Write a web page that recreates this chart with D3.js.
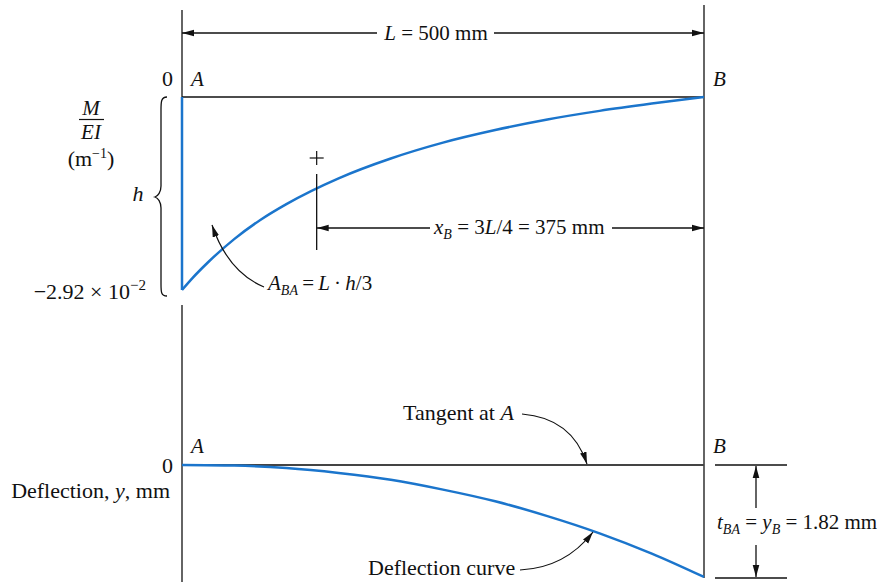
<!DOCTYPE html>
<html>
<head>
<meta charset="utf-8">
<script src="https://cdn.jsdelivr.net/npm/d3@7"></script>
<style>
  html, body { margin: 0; padding: 0; background: #fff; }
  svg { display: block; }
  text { font-family: "Liberation Serif", "Times New Roman", serif; fill: #111; }
</style>
</head>
<body>
<svg id="chart" width="882" height="584"></svg>
<script>
// ---- Data ----
const beamLength = 500; // mm
// M/EI diagram (m^-1) vs position x (mm)
const xMoment = [0, 10, 25, 50, 75, 100, 150, 200, 250, 300, 350, 400, 450, 500];
const mOverEI = [-0.0292, -0.0274, -0.0250, -0.0215, -0.0186, -0.0162, -0.0123, -0.0093, -0.0069, -0.0050, -0.0034, -0.0021, -0.0010, 0];
// Deflection curve y (mm) vs position x (mm)
const xDeflection = [0, 50, 100, 150, 200, 250, 300, 350, 400, 450, 500];
const deflection = [0, -0.01, -0.05, -0.13, -0.24, -0.40, -0.59, -0.83, -1.11, -1.44, -1.82];
const hValue = -0.0292;
const tBA = -1.82;
const centroidX = 129; // position of centroid marker (mm), as drawn
const topTickValues = [0, hValue];
const bottomTickValues = [0];

// ---- Scales ----
const svg = d3.select("#chart");
const x = d3.scaleLinear().domain([0, beamLength]).range([182, 704]);
const yM = d3.scaleLinear().domain([0, hValue]).range([97, 290]);
const yD = d3.scaleLinear().domain([0, tBA]).range([465, 577]);

const BLUE = "#1b75cc";
const FS = 21;
const FS2 = 22;

// markers
const defs = svg.append("defs");
defs.append("marker").attr("id", "arr")
  .attr("viewBox", "0 -5 12 10").attr("refX", 12).attr("refY", 0)
  .attr("markerWidth", 12).attr("markerHeight", 10)
  .attr("markerUnits", "userSpaceOnUse").attr("orient", "auto-start-reverse")
  .append("path").attr("d", "M0,-3.3L12,0L0,3.3Z").attr("fill", "#111");

function line(x1, y1, x2, y2, opts = {}) {
  const l = svg.append("line").attr("x1", x1).attr("y1", y1).attr("x2", x2).attr("y2", y2)
    .attr("stroke", opts.stroke || "#111").attr("stroke-width", opts.w || 1.3);
  if (opts.start) l.attr("marker-start", "url(#arr)");
  if (opts.end) l.attr("marker-end", "url(#arr)");
  return l;
}

// ---- Frame lines ----
line(x(0), 10, x(0), yM(0));
line(x(0), 305, x(0), 582);
line(x(beamLength), 5, x(beamLength), 578);
// top baseline
line(x(0), yM(0), x(beamLength), yM(0));
// bottom tangent line
line(x(0), yD(0), x(beamLength), yD(0), { stroke: "#444", w: 2 });

// ---- M/EI curve ----
line(x(0), yM(0), x(0), yM(hValue), { stroke: BLUE, w: 2.5 });
const pts = xMoment.map((d, i) => [x(d), yM(mOverEI[i])]);
svg.append("path").attr("d", d3.line().curve(d3.curveMonotoneX)(pts))
  .attr("fill", "none").attr("stroke", BLUE).attr("stroke-width", 2.5);

// ---- Deflection curve ----
const dpts = xDeflection.map((d, i) => [x(d), yD(deflection[i])]);
svg.append("path").attr("d", d3.line().curve(d3.curveMonotoneX)(dpts))
  .attr("fill", "none").attr("stroke", BLUE).attr("stroke-width", 2.5);

// ---- Dimension L = 500 mm ----
const dimY = 33;
line(x(0), dimY, 377, dimY, { start: true });
line(494, dimY, x(beamLength), dimY, { end: true });
const tL = svg.append("text").attr("x", 436).attr("y", 40).attr("text-anchor", "middle").attr("font-size", FS);
tL.append("tspan").attr("font-style", "italic").text("L");
tL.append("tspan").text(" = 500 mm");

// ---- Point labels ----
function label(xx, yy, txt, anchor = "start", italic = false, fs = FS) {
  return svg.append("text").attr("x", xx).attr("y", yy).attr("text-anchor", anchor)
    .attr("font-size", fs).attr("font-style", italic ? "italic" : "normal").text(txt);
}
label(x(0) + 9, 86, "A", "start", true);
label(x(beamLength) + 9, 86, "B", "start", true);
label(x(0) + 9, 453, "A", "start", true);
label(x(beamLength) + 9, 453, "B", "start", true);

// tick labels
label(173, yM(topTickValues[0]) - 11, "0", "end", false, FS2);
const tk = svg.append("text").attr("x", 146).attr("y", yM(topTickValues[1]) + 9)
  .attr("text-anchor", "end").attr("font-size", FS2);
tk.append("tspan").text("\u22122.92 \u00d7 10");
tk.append("tspan").attr("font-size", 15).attr("dy", -9).text("\u22122");
label(173, yD(bottomTickValues[0]) + 8, "0", "end", false, FS2);

// axis titles
const fx = 91;
svg.append("text").attr("x", fx).attr("y", 114.5).attr("text-anchor", "middle")
  .attr("font-size", FS).attr("font-style", "italic").text("M");
line(79, 119.5, 104, 119.5, { w: 1.2 });
svg.append("text").attr("x", fx).attr("y", 139).attr("text-anchor", "middle")
  .attr("font-size", FS).attr("font-style", "italic").text("EI");
const mu = svg.append("text").attr("x", fx).attr("y", 166).attr("text-anchor", "middle").attr("font-size", FS2);
mu.append("tspan").text("(m");
mu.append("tspan").attr("font-size", 14).attr("dy", -8).text("\u22121");
mu.append("tspan").attr("dy", 8).text(")");

label(170, 498, "", "end", false, FS2).call(t => {
  t.append("tspan").text("Deflection, ");
  t.append("tspan").attr("font-style", "italic").text("y");
  t.append("tspan").text(", mm");
});

// brace + h
svg.append("path")
  .attr("d", "M167,97 C161,97 161,102 161,110 L161,186 C161,192 158,196 155,197 C158,198 161,202 161,208 L161,284 C161,292 161,296 167,296")
  .attr("fill", "none").attr("stroke", "#111").attr("stroke-width", 1.3);
label(138, 201, "h", "middle", true, FS2);

// ---- Centroid annotations ----
const cx = x(centroidX);
line(cx - 7, 158, cx + 7, 158, { w: 1.2 });
line(cx, 151, cx, 165, { w: 1.2 });
line(cx, 174, cx, 250);
const arY = 228;
line(430, arY, cx, arY, { end: true });
line(612, arY, x(beamLength), arY, { end: true });
const tx = svg.append("text").attr("x", 434).attr("y", 234).attr("font-size", FS);
tx.append("tspan").attr("font-style", "italic").text("x");
tx.append("tspan").attr("font-style", "italic").attr("font-size", 14).attr("dy", 5).text("B");
tx.append("tspan").attr("dy", -5).text(" = 3");
tx.append("tspan").attr("font-style", "italic").text("L");
tx.append("tspan").text("/4 = 375 mm");

// A_BA
svg.append("path").attr("d", "M264,287 Q228,272 212,225")
  .attr("fill", "none").attr("stroke", "#111").attr("stroke-width", 1.2).attr("marker-end", "url(#arr)");
const ta = svg.append("text").attr("x", 268).attr("y", 290).attr("font-size", FS);
ta.append("tspan").attr("font-style", "italic").text("A");
ta.append("tspan").attr("font-style", "italic").attr("font-size", 14).attr("dy", 5).text("BA");
ta.append("tspan").attr("dy", -5).text("\u2009=\u2009");
ta.append("tspan").attr("font-style", "italic").text("L");
ta.append("tspan").text("\u2009\u00b7\u2009");
ta.append("tspan").attr("font-style", "italic").text("h");
ta.append("tspan").text("/3");

// ---- Tangent / deflection curve annotations ----
label(403, 420, "", "start", false, FS2).call(t => {
  t.append("tspan").text("Tangent at ");
  t.append("tspan").attr("font-style", "italic").text("A");
});
svg.append("path").attr("d", "M522,414 Q572,418 587,464")
  .attr("fill", "none").attr("stroke", "#111").attr("stroke-width", 1.2).attr("marker-end", "url(#arr)");

label(368, 575, "Deflection curve", "start", false, FS2);
svg.append("path").attr("d", "M520,570 Q565,568 593,532")
  .attr("fill", "none").attr("stroke", "#111").attr("stroke-width", 1.2).attr("marker-end", "url(#arr)");

// ---- t_BA dimension ----
line(715, yD(0), 787, yD(0));
line(715, yD(tBA) + 1, 787, yD(tBA) + 1);
const vx = 756;
line(vx, 508, vx, yD(0) + 1, { end: true });
line(vx, 545, vx, yD(tBA), { end: true });
const tt = svg.append("text").attr("x", 717).attr("y", 529).attr("font-size", FS);
tt.append("tspan").attr("font-style", "italic").text("t");
tt.append("tspan").attr("font-style", "italic").attr("font-size", 14).attr("dy", 5).text("BA");
tt.append("tspan").attr("dy", -5).text(" = ");
tt.append("tspan").attr("font-style", "italic").text("y");
tt.append("tspan").attr("font-style", "italic").attr("font-size", 14).attr("dy", 5).text("B");
tt.append("tspan").attr("dy", -5).text(" = 1.82 mm");
</script>
</body>
</html>
